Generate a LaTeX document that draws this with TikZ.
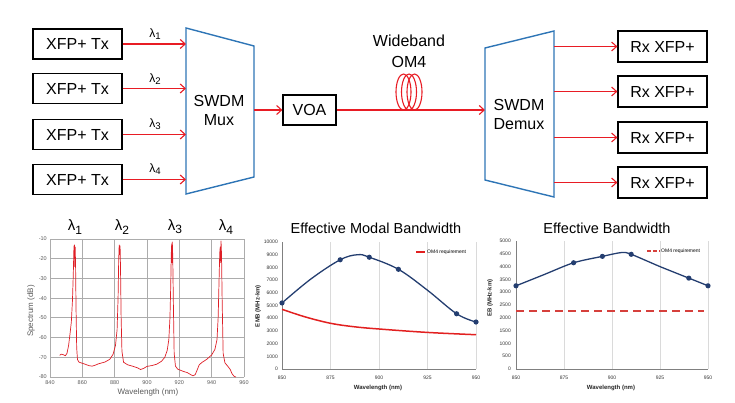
\documentclass[tikz,border=0pt]{standalone}
\usepackage{fontspec}
\setmainfont{Liberation Sans}
\usetikzlibrary{arrows.meta}
\definecolor{sigred}{RGB}{232,28,36}
\definecolor{trapblue}{RGB}{46,117,182}
\definecolor{navy}{RGB}{36,62,112}
\definecolor{specred}{RGB}{222,30,38}
\definecolor{reqred}{RGB}{226,32,32}
\definecolor{dashred}{RGB}{214,64,60}
\definecolor{gridA}{RGB}{172,172,172}
\definecolor{gridB}{RGB}{218,218,218}
\definecolor{ticktxt}{RGB}{90,90,90}
\newcommand\lam[1]{λ\raisebox{-0.4ex}{\scalebox{0.8}{#1}}}
\begin{document}
\begin{tikzpicture}[x=1pt,y=-1pt,
  box/.style={draw=black, line width=1.2pt, minimum width=89pt, minimum height=30pt, inner sep=0pt, font=\fontsize{16}{18}\selectfont},
  sig/.style={draw=sigred, line width=1.1pt, -{Straight Barb[length=5pt,width=9pt,line width=1.1pt]}},
  fiberline/.style={draw=sigred, line width=1.1pt},
  trap/.style={draw=trapblue, line width=1.4pt},
  lbl/.style={font=\fontsize{16}{19}\selectfont, align=center, inner sep=0pt},
  lamtop/.style={font=\fontsize{12}{14}\selectfont, inner sep=0pt},
  lambot/.style={font=\fontsize{15}{17}\selectfont, inner sep=0pt},
  tickA/.style={font=\fontsize{5.5}{6}\selectfont, text=ticktxt, inner sep=0pt},
  tickB/.style={font=\fontsize{5}{6}\selectfont, text=black!80, inner sep=0pt},
  axlabA/.style={font=\fontsize{8}{9}\selectfont, text=ticktxt, inner sep=0pt},
  axlabB/.style={font=\fontsize{6}{7}\bfseries\selectfont, text=black!85, inner sep=0pt},
  title/.style={font=\fontsize{14.5}{16}\selectfont, inner sep=0pt},
  legtxt/.style={font=\fontsize{5}{6}\selectfont, inner sep=0pt, anchor=west},
  mk/.style={fill=navy, draw=none},
]
\useasboundingbox (0,0) rectangle (735,403);

% ---------- transmitters ----------
\node[box] (tx1) at (77.5,44) {XFP+ Tx};
\node[box] (tx2) at (77.5,88.5) {XFP+ Tx};
\node[box] (tx3) at (77.5,134.5) {XFP+ Tx};
\node[box] (tx4) at (77.5,179.5) {XFP+ Tx};

% ---------- mux ----------
\draw[trap] (186,28) -- (254,46) -- (254,177) -- (186,194) -- cycle;
\coordinate (muxL) at (186,0);
\coordinate (muxR) at (254,110);
\node[lbl] (muxlbl) at (219,110) {SWDM\\Mux};

\draw[sig] (tx1.east) -- (tx1.east -| muxL);
\draw[sig] (tx2.east) -- (tx2.east -| muxL);
\draw[sig] (tx3.east) -- (tx3.east -| muxL);
\draw[sig] (tx4.east) -- (tx4.east -| muxL);
\node[lamtop] (lt1) at (155,34) {\lam{1}};
\node[lamtop] (lt2) at (155,79) {\lam{2}};
\node[lamtop] (lt3) at (155,124) {\lam{3}};
\node[lamtop] (lt4) at (155,169) {\lam{4}};

% ---------- VOA ----------
\node[box, minimum width=53pt] (voa) at (309.5,110) {VOA};
\draw[sig] (muxR) -- (voa.west);

% ---------- demux ----------
\draw[trap] (485,48) -- (554,31) -- (554,197) -- (485,180) -- cycle;
\coordinate (dmxL) at (485,110);
\coordinate (dmxR) at (554,0);
\node[lbl] (dmxlbl) at (519,114) {SWDM\\Demux};
\draw[sig] (voa.east) -- (dmxL);

% fiber coil
\draw[fiberline] (403.5,92) ellipse [x radius=7.5pt, y radius=18pt];
\draw[fiberline] (409,92) ellipse [x radius=7.5pt, y radius=18pt];
\draw[fiberline] (414.5,92) ellipse [x radius=7.5pt, y radius=18pt];
\node[lbl, font=\fontsize{16}{21}\selectfont] (wb) at (409,51) {Wideband\\OM4};

% ---------- receivers ----------
\node[box, minimum height=31pt] (rx1) at (662.5,46.5) {Rx XFP+};
\node[box, minimum height=31pt] (rx2) at (662.5,91.5) {Rx XFP+};
\node[box, minimum height=31pt] (rx3) at (662.5,137.5) {Rx XFP+};
\node[box, minimum height=31pt] (rx4) at (662.5,182.5) {Rx XFP+};
\draw[sig] (rx1.west -| dmxR) -- (rx1.west);
\draw[sig] (rx2.west -| dmxR) -- (rx2.west);
\draw[sig] (rx3.west -| dmxR) -- (rx3.west);
\draw[sig] (rx4.west -| dmxR) -- (rx4.west);

% ---------- chart 1: spectrum ----------
\begin{scope}[shift={(-1308pt,-219.29pt)}, x=1.61667pt, y=1.97143pt]
  \foreach \d in {-10,-20,...,-80}{
    \draw[gridA, line width=0.8pt] (840,\d) -- (960,\d);
    \node[tickA, anchor=east] at ([xshift=-3pt]840,\d) {\d};
  }
  \foreach \n in {840,860,...,960}{
    \draw[gridA, line width=0.8pt] (\n,-10) -- (\n,-80);
    \node[tickA] at ([yshift=-6pt]\n,-80) {\n};
  }
  \draw[specred, line width=0.7pt, line join=round] plot coordinates {
    (846,-69) (847,-68.4) (848,-68.6) (849.5,-69.2) (850.5,-68) (851.5,-64) (852.4,-58)
    (853.2,-52) (853.9,-41) (854.4,-28) (854.8,-14) (855.1,-13) (855.35,-24) (855.55,-14)
    (855.8,-22) (856.1,-45) (856.5,-65) (857,-71.2) (858,-72.5) (861,-73.3) (864,-74.2)
    (866,-74.5) (868,-74) (870,-73.3) (874,-72.4) (877,-71) (879,-68.5) (880.5,-64)
    (881.5,-56) (882.1,-40) (882.5,-20) (882.8,-13) (883.1,-18) (883.35,-13.5) (883.6,-24)
    (884,-50) (884.5,-67) (885.5,-72.5) (888,-73.8) (891,-74.5) (894,-75.3) (896,-76.2)
    (898,-75.6) (900,-74.6) (903,-74.2) (906,-73.5) (909,-72) (911,-70) (912.5,-66.5)
    (913.5,-61) (914.2,-50) (914.7,-33) (915,-18) (915.25,-12.5) (915.45,-22) (915.65,-11.5)
    (915.9,-18) (916.3,-42) (916.8,-68) (917.6,-74.5) (919,-76) (922,-77) (925,-77.8)
    (927,-78.8) (928.5,-79.4) (929.8,-78.8) (931,-76.5) (932.3,-73.8) (934,-72.6) (937,-71)
    (940,-68.8) (942,-66) (943.3,-61) (944,-50) (944.6,-30) (945,-17) (945.3,-14)
    (945.55,-22) (945.8,-11) (946.1,-18) (946.5,-42) (947.1,-68) (948.2,-72.8) (950,-74.6)
    (951.5,-76.2) (952.5,-78.2) (953.8,-79.6) (955,-80) };
\end{scope}
\node[axlabA] (c1x) at (148,392) {Wavelength (nm)};
\node[axlabA, rotate=90] (c1y) at (31,311) {Spectrum (dB)};
\node[lambot] (lb1) at (75,227) {\lam{1}};
\node[lambot] (lb2) at (122,227) {\lam{2}};
\node[lambot] (lb3) at (175,227) {\lam{3}};
\node[lambot] (lb4) at (226,227) {\lam{4}};

% ---------- chart 2: EMB ----------
\begin{scope}[shift={(-1367pt,-369pt)}, x=1.94pt, y=12.7pt]
  \foreach \n in {875,900,925,950}{
    \draw[gridB, line width=0.7pt] (\n,0) -- (\n,10);
  }
  \draw[gray, line width=0.6pt] (850,10) -- (850,0) -- (950,0);
  \foreach \v in {0,1,...,10}{
    \pgfmathtruncatemacro\lab{\v*1000}
    \node[tickB, anchor=east] at ([xshift=-4pt]850,\v) {\lab};
  }
  \foreach \n in {850,875,900,925,950}{
    \node[tickB] at ([yshift=-9pt]\n,0) {\n};
  }
  \draw[reqred, line width=1.5pt] plot[smooth, tension=0.6] coordinates {
    (850,4.7) (862,4.1) (875,3.6) (887,3.33) (900,3.15) (925,2.88) (950,2.7) };
  \draw[navy, line width=1.3pt] plot[smooth, tension=0.6] coordinates {
    (850,5.2) (865,7.1) (880,8.6) (889,9.0) (895,8.8) (910,7.85) (925,6.2) (940,4.35) (950,3.7) };
  \foreach \p/\q in {850/5.2,880/8.6,895/8.8,910/7.85,940/4.35,950/3.7}{
    \fill[mk] (\p,\q) circle[radius=2.6pt];
  }
\end{scope}
\draw[reqred, line width=1.3pt] (416,252) -- (425,252);
\node[legtxt] (leg2) at (427,252) {OM4 requirement};
\node[title] (t2) at (376,228) {Effective Modal Bandwidth};
\node[axlabB] (c2x) at (378,388) {Wavelength (nm)};
\node[axlabB, rotate=90] (c2y) at (258,306) {EMB (MHz-km)};

% ---------- chart 3: EB ----------
\begin{scope}[shift={(-1116pt,-369pt)}, x=1.92pt, y=25.6pt]
  \foreach \n in {875,900,925,950}{
    \draw[gridB, line width=0.7pt] (\n,0) -- (\n,5);
  }
  \draw[gray, line width=0.6pt] (850,5) -- (850,0) -- (950,0);
  \foreach \v in {0,1,...,10}{
    \pgfmathtruncatemacro\lab{\v*500}
    \node[tickB, anchor=east] at ([xshift=-5pt]850,\v/2) {\lab};
  }
  \foreach \n in {850,875,900,925,950}{
    \node[tickB] at ([yshift=-9pt]\n,0) {\n};
  }
  \draw[dashred, line width=2pt, dash pattern=on 8pt off 5pt] (850,2.25) -- (948,2.25);
  \draw[navy, line width=1.3pt] plot[smooth, tension=0.5] coordinates {
    (850,3.25) (865,3.7) (880,4.15) (895,4.4) (905,4.55) (910,4.48) (925,4.0) (940,3.55) (950,3.25) };
  \foreach \p/\q in {850/3.25,880/4.15,895/4.4,910/4.48,940/3.55,950/3.25}{
    \fill[mk] (\p,\q) circle[radius=2.6pt];
  }
\end{scope}
\draw[dashred, line width=1.6pt, dash pattern=on 4pt off 2pt] (647,251) -- (660,251);
\node[legtxt] (leg3) at (661,251) {OM4 requirement};
\node[title] (t3) at (607,228) {Effective Bandwidth};
\node[axlabB] (c3x) at (611,388) {Wavelength (nm)};
\node[axlabB, rotate=90] (c3y) at (490,298) {EB (MHz-km)};
\end{tikzpicture}
\end{document}
